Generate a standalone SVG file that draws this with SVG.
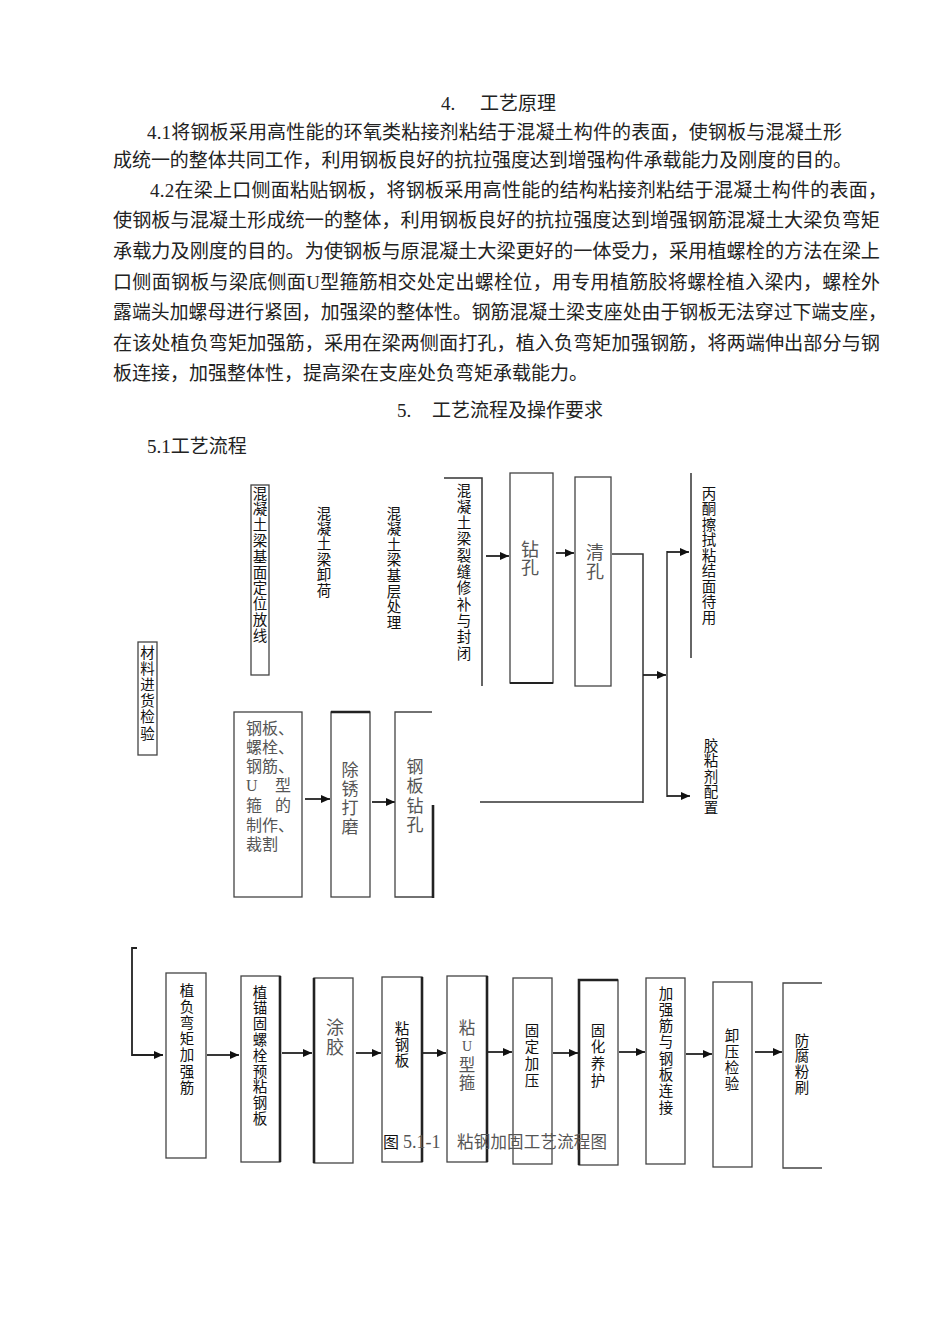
<svg xmlns="http://www.w3.org/2000/svg" width="950" height="1344" viewBox="0 0 950 1344">
<defs>
<marker id="ah" markerWidth="9" markerHeight="8" refX="9" refY="4" orient="auto" markerUnits="userSpaceOnUse"><path d="M0,0 L9,4 L0,8 z" fill="#111"/></marker>
<style>
.para{font-family:"Liberation Serif","Noto Sans CJK SC",serif;font-size:19px;fill:#222}
.vt{font-family:"Liberation Sans","Noto Sans CJK SC",sans-serif;font-size:14.5px;fill:#111;text-anchor:middle}
.st{font-family:"Liberation Serif","Noto Sans CJK SC",serif;font-size:17px;fill:#555;text-anchor:middle}
.box{fill:none;stroke:#444;stroke-width:1.3}
.thk{fill:none;stroke:#222;stroke-width:2.6}
.conn{fill:none;stroke:#333;stroke-width:1.5}
.arr{fill:none;stroke:#222;stroke-width:1.8;marker-end:url(#ah)}
</style>
</defs>
<rect width="950" height="1344" fill="#fff"/>

<g id="text-body" class="para">
<text x="441" y="110">4.</text>
<text x="480" y="110">工艺原理</text>
<text x="147" y="139" textLength="695" lengthAdjust="spacing">4.1将钢板采用高性能的环氧类粘接剂粘结于混凝土构件的表面，使钢板与混凝土形</text>
<text x="113" y="167" textLength="739" lengthAdjust="spacing">成统一的整体共同工作，利用钢板良好的抗拉强度达到增强构件承载能力及刚度的目的。</text>
<text x="150" y="197" textLength="737" lengthAdjust="spacing">4.2在梁上口侧面粘贴钢板，将钢板采用高性能的结构粘接剂粘结于混凝土构件的表面，</text>
<text x="113" y="227" textLength="767" lengthAdjust="spacingAndGlyphs">使钢板与混凝土形成统一的整体，利用钢板良好的抗拉强度达到增强钢筋混凝土大梁负弯矩</text>
<text x="113" y="258" textLength="767" lengthAdjust="spacingAndGlyphs">承载力及刚度的目的。为使钢板与原混凝土大梁更好的一体受力，采用植螺栓的方法在梁上</text>
<text x="113" y="289" textLength="767" lengthAdjust="spacing">口侧面钢板与梁底侧面U型箍筋相交处定出螺栓位，用专用植筋胶将螺栓植入梁内，螺栓外</text>
<text x="113" y="319" textLength="774" lengthAdjust="spacingAndGlyphs">露端头加螺母进行紧固，加强梁的整体性。钢筋混凝土梁支座处由于钢板无法穿过下端支座，</text>
<text x="113" y="350" textLength="767" lengthAdjust="spacingAndGlyphs">在该处植负弯矩加强筋，采用在梁两侧面打孔，植入负弯矩加强钢筋，将两端伸出部分与钢</text>
<text x="113" y="380">板连接，加强整体性，提高梁在支座处负弯矩承载能力。</text>
<text x="397" y="417">5.</text>
<text x="432" y="417">工艺流程及操作要求</text>
<text x="147" y="453">5.1工艺流程</text>
</g>

<g id="connectors">
<line class="arr" x1="305" y1="799" x2="330" y2="799"/>
<line class="arr" x1="372" y1="802" x2="395" y2="802"/>
<polyline class="conn" points="444,478 482,478 482,686"/>
<line class="arr" x1="486" y1="556" x2="509" y2="556"/>
<line class="arr" x1="556" y1="553" x2="574" y2="553"/>
<polyline class="conn" points="612,554 643,554 643,803"/>
<line class="conn" x1="480" y1="802" x2="643" y2="802"/>
<line class="arr" x1="643" y1="675" x2="666" y2="675"/>
<line class="conn" x1="667" y1="551" x2="667" y2="797"/>
<line class="arr" x1="667" y1="552" x2="689" y2="552"/>
<line class="arr" x1="667" y1="796" x2="690" y2="796"/>
<line class="conn" x1="691" y1="473" x2="691" y2="658"/>
<polyline class="arr" points="137,948 132,948 132,1055 163,1055"/>
<line class="arr" x1="207" y1="1055" x2="239" y2="1055"/>
<line class="arr" x1="282" y1="1053" x2="312" y2="1053"/>
<line class="arr" x1="356" y1="1053" x2="381" y2="1053"/>
<line class="arr" x1="423" y1="1053" x2="446" y2="1053"/>
<line class="arr" x1="488" y1="1052" x2="512" y2="1052"/>
<line class="arr" x1="553" y1="1053" x2="578" y2="1053"/>
<line class="arr" x1="619" y1="1052" x2="645" y2="1052"/>
<line class="arr" x1="686" y1="1054" x2="712" y2="1054"/>
<line class="arr" x1="755" y1="1052" x2="782" y2="1052"/>
</g>

<g id="n-dingwei">
<rect class="box" x="251" y="485" width="18" height="190"/>
<text class="vt"><tspan x="260" y="498.5">混</tspan><tspan x="260" dy="15.8">凝</tspan><tspan x="260" dy="15.8">土</tspan><tspan x="260" dy="15.8">梁</tspan><tspan x="260" dy="15.8">基</tspan><tspan x="260" dy="15.8">面</tspan><tspan x="260" dy="15.8">定</tspan><tspan x="260" dy="15.8">位</tspan><tspan x="260" dy="15.8">放</tspan><tspan x="260" dy="15.8">线</tspan></text>
</g>
<g id="n-xiehe">
<text class="vt"><tspan x="324" y="518.5">混</tspan><tspan x="324" dy="15.4">凝</tspan><tspan x="324" dy="15.4">土</tspan><tspan x="324" dy="15.4">梁</tspan><tspan x="324" dy="15.4">卸</tspan><tspan x="324" dy="15.4">荷</tspan></text>
</g>
<g id="n-jiceng">
<text class="vt"><tspan x="394" y="518.5">混</tspan><tspan x="394" dy="15.6">凝</tspan><tspan x="394" dy="15.6">土</tspan><tspan x="394" dy="15.6">梁</tspan><tspan x="394" dy="15.6">基</tspan><tspan x="394" dy="15.6">层</tspan><tspan x="394" dy="15.6">处</tspan><tspan x="394" dy="15.6">理</tspan></text>
</g>
<g id="n-cailiao">
<rect class="box" x="138" y="642" width="19" height="113"/>
<text class="vt"><tspan x="147.5" y="657.5">材</tspan><tspan x="147.5" dy="16.2">料</tspan><tspan x="147.5" dy="16.2">进</tspan><tspan x="147.5" dy="16.2">货</tspan><tspan x="147.5" dy="16.2">检</tspan><tspan x="147.5" dy="16.2">验</tspan></text>
</g>
<g id="n-liefeng">
<text class="vt"><tspan x="464" y="495.5">混</tspan><tspan x="464" dy="16.3">凝</tspan><tspan x="464" dy="16.3">土</tspan><tspan x="464" dy="16.3">梁</tspan><tspan x="464" dy="16.3">裂</tspan><tspan x="464" dy="16.3">缝</tspan><tspan x="464" dy="16.3">修</tspan><tspan x="464" dy="16.3">补</tspan><tspan x="464" dy="16.3">与</tspan><tspan x="464" dy="16.3">封</tspan><tspan x="464" dy="16.3">闭</tspan></text>
</g>
<g id="n-zuankong">
<rect class="box" x="510" y="473" width="43" height="210"/>
<line class="thk" x1="510" y1="683" x2="553" y2="683" style="stroke-width:2"/>
<text class="st" style="font-size:18px"><tspan x="530" y="556">钻</tspan><tspan x="530" y="574">孔</tspan></text>
</g>
<g id="n-qingkong">
<rect class="box" x="575" y="477" width="36" height="209"/>
<text class="st" style="font-size:18px"><tspan x="595" y="559">清</tspan><tspan x="595" y="578">孔</tspan></text>
</g>
<g id="n-bingtong">
<text class="vt"><tspan x="709" y="498.5">丙</tspan><tspan x="709" dy="15.5">酮</tspan><tspan x="709" dy="15.5">擦</tspan><tspan x="709" dy="15.5">拭</tspan><tspan x="709" dy="15.5">粘</tspan><tspan x="709" dy="15.5">结</tspan><tspan x="709" dy="15.5">面</tspan><tspan x="709" dy="15.5">待</tspan><tspan x="709" dy="15.5">用</tspan></text>
</g>
<g id="n-jiaonian">
<text class="vt"><tspan x="711" y="750.5">胶</tspan><tspan x="711" dy="15.5">粘</tspan><tspan x="711" dy="15.5">剂</tspan><tspan x="711" dy="15.5">配</tspan><tspan x="711" dy="15.5">置</tspan></text>
</g>
<g id="n-zhizuo">
<rect class="box" x="234" y="712" width="68" height="185"/>
<text class="st" style="font-size:16px;text-anchor:start"><tspan x="246" y="734" textLength="48" lengthAdjust="spacing">钢板、</tspan><tspan x="246" y="753" textLength="48" lengthAdjust="spacing">螺栓、</tspan><tspan x="246" y="772" textLength="48" lengthAdjust="spacing">钢筋、</tspan><tspan x="246" y="791" textLength="45" lengthAdjust="spacing">U　型</tspan><tspan x="246" y="811" textLength="45" lengthAdjust="spacing">箍　的</tspan><tspan x="246" y="831" textLength="48" lengthAdjust="spacing">制作、</tspan><tspan x="246" y="850">裁割</tspan></text>
</g>
<g id="n-chuxiu">
<rect class="box" x="331" y="712" width="39" height="185"/>
<line class="thk" x1="331" y1="712" x2="370" y2="712"/>
<text class="st"><tspan x="350" y="776">除</tspan><tspan x="350" dy="19">锈</tspan><tspan x="350" dy="19">打</tspan><tspan x="350" dy="19">磨</tspan></text>
</g>
<g id="n-gangbanzuankong">
<path class="box" d="M432,712 H395 V897 H433"/>
<line class="thk" x1="433" y1="805" x2="433" y2="898"/>
<text class="st"><tspan x="415" y="773">钢</tspan><tspan x="415" dy="19.3">板</tspan><tspan x="415" dy="19.3">钻</tspan><tspan x="415" dy="19.3">孔</tspan></text>
</g>

<g id="n-zhifu">
<rect class="box" x="166" y="973" width="40" height="185"/>
<text class="vt"><tspan x="187" y="995.5">植</tspan><tspan x="187" dy="16.2">负</tspan><tspan x="187" dy="16.2">弯</tspan><tspan x="187" dy="16.2">矩</tspan><tspan x="187" dy="16.2">加</tspan><tspan x="187" dy="16.2">强</tspan><tspan x="187" dy="16.2">筋</tspan></text>
</g>
<g id="n-zhimao">
<rect class="box" x="241" y="976" width="39" height="186"/>
<line class="thk" x1="280" y1="976" x2="280" y2="1162"/>
<text class="vt"><tspan x="260" y="997.5">植</tspan><tspan x="260" dy="15.8">锚</tspan><tspan x="260" dy="15.8">固</tspan><tspan x="260" dy="15.8">螺</tspan><tspan x="260" dy="15.8">栓</tspan><tspan x="260" dy="15.8">预</tspan><tspan x="260" dy="15.8">粘</tspan><tspan x="260" dy="15.8">钢</tspan><tspan x="260" dy="15.8">板</tspan></text>
</g>
<g id="n-tujiao">
<rect class="box" x="314" y="978" width="39" height="185"/>
<line class="thk" x1="314" y1="978" x2="314" y2="1163"/>
<text class="st" style="font-size:18px"><tspan x="335" y="1034">涂</tspan><tspan x="335" y="1054">胶</tspan></text>
</g>
<g id="n-niangangban">
<rect class="box" x="382" y="977" width="40" height="185"/>
<line class="thk" x1="422" y1="977" x2="422" y2="1162"/>
<text class="vt"><tspan x="402" y="1033.5">粘</tspan><tspan x="402" dy="16">钢</tspan><tspan x="402" dy="16">板</tspan></text>
</g>
<g id="n-nianu">
<rect class="box" x="447" y="976" width="40" height="186"/>
<line class="thk" x1="487" y1="976" x2="487" y2="1162"/>
<text class="st" style="font-size:16.5px"><tspan x="467" y="1034">粘</tspan><tspan x="467" y="1051" style="font-size:14px">U</tspan><tspan x="467" y="1071">型</tspan><tspan x="467" y="1089">箍</tspan></text>
</g>
<g id="n-gudingjiaya">
<rect class="box" x="513" y="978" width="39" height="186"/>
<text class="vt"><tspan x="532" y="1035.5">固</tspan><tspan x="532" dy="16.7">定</tspan><tspan x="532" dy="16.7">加</tspan><tspan x="532" dy="16.7">压</tspan></text>
</g>
<g id="n-guhua">
<rect class="box" x="579" y="980" width="39" height="185"/>
<path class="thk" d="M579,1165 V980 H618"/>
<text class="vt"><tspan x="598" y="1035.5">固</tspan><tspan x="598" dy="16.7">化</tspan><tspan x="598" dy="16.7">养</tspan><tspan x="598" dy="16.7">护</tspan></text>
</g>
<g id="n-jiaqiangjin">
<rect class="box" x="646" y="978" width="39" height="186"/>
<text class="vt"><tspan x="666" y="998.5">加</tspan><tspan x="666" dy="16.3">强</tspan><tspan x="666" dy="16.3">筋</tspan><tspan x="666" dy="16.3">与</tspan><tspan x="666" dy="16.3">钢</tspan><tspan x="666" dy="16.3">板</tspan><tspan x="666" dy="16.3">连</tspan><tspan x="666" dy="16.3">接</tspan></text>
</g>
<g id="n-xieya">
<rect class="box" x="713" y="982" width="39" height="185"/>
<text class="vt"><tspan x="732" y="1040.5">卸</tspan><tspan x="732" dy="16">压</tspan><tspan x="732" dy="16">检</tspan><tspan x="732" dy="16">验</tspan></text>
</g>
<g id="n-fangfu">
<path class="box" d="M822,983 H783 V1168 H822"/>
<text class="vt"><tspan x="802" y="1045.5">防</tspan><tspan x="802" dy="15.7">腐</tspan><tspan x="802" dy="15.7">粉</tspan><tspan x="802" dy="15.7">刷</tspan></text>
</g>

<g id="caption">
<text x="383" y="1148" style="font-family:'Liberation Sans','Noto Sans CJK SC',sans-serif;font-size:16px;fill:#111">图</text>
<text x="403" y="1148" style="font-family:'Liberation Serif',serif;font-size:18px;fill:#555">5.1-1</text>
<text x="457" y="1148" textLength="150" lengthAdjust="spacing" style="font-family:'Liberation Serif','Noto Sans CJK SC',serif;font-size:16.5px;fill:#555">粘钢加固工艺流程图</text>
</g>
</svg>
